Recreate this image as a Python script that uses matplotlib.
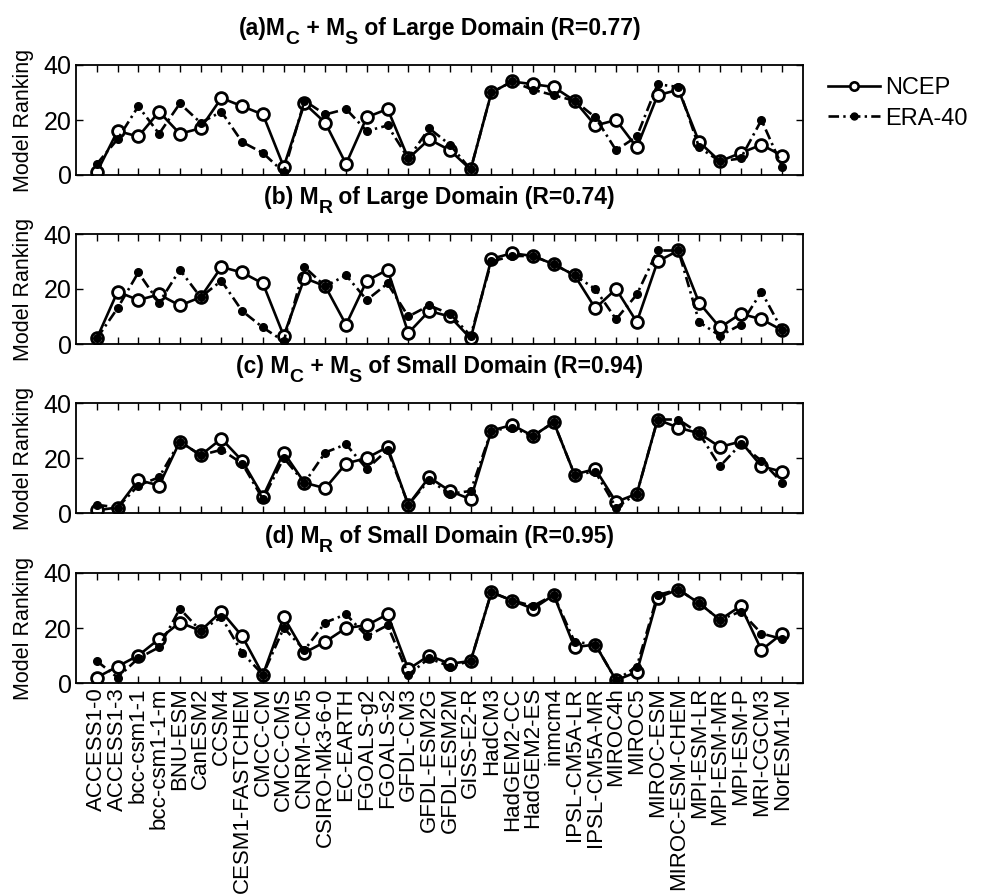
#!/usr/bin/env python3

import numpy as np
import matplotlib
matplotlib.use("Agg")
import matplotlib.pyplot as plt
from matplotlib.lines import Line2D
from matplotlib.transforms import IdentityTransform


# Modellnamen (x-Achse)
models = ["ACCESS1-0", "ACCESS1-3", "bcc-csm1-1", "bcc-csm1-1-m", "BNU-ESM", "CanESM2",
          "CCSM4", "CESM1-FASTCHEM", "CMCC-CM", "CMCC-CMS", "CNRM-CM5", "CSIRO-Mk3-6-0",
          "EC-EARTH", "FGOALS-g2", "FGOALS-s2", "GFDL-CM3", "GFDL-ESM2G", "GFDL-ESM2M",
          "GISS-E2-R", "HadCM3", "HadGEM2-CC", "HadGEM2-ES", "inmcm4", "IPSL-CM5A-LR",
          "IPSL-CM5A-MR", "MIROC4h", "MIROC5", "MIROC-ESM", "MIROC-ESM-CHEM", "MPI-ESM-LR",
          "MPI-ESM-MR", "MPI-ESM-P", "MRI-CGCM3", "NorESM1-M"]

# Titel als Stuecke: (Text, ist Index)
titles = [[("(a)M", False), ("C", True), (" + M", False), ("S", True),
           (" of Large Domain (R=0.77)", False)],
          [("(b) M", False), ("R", True), (" of Large Domain (R=0.74)", False)],
          [("(c) M", False), ("C", True), (" + M", False), ("S", True),
           (" of Small Domain (R=0.94)", False)],
          [("(d) M", False), ("R", True), (" of Small Domain (R=0.95)", False)]]

# (a) MC + MS, grosses Gebiet
ncep_a = [1, 16, 14, 23, 15, 17, 28, 25, 22, 3, 26, 19, 4, 21, 24, 6, 13, 9, 2, 30,
          34, 33, 32, 27, 18, 20, 10, 29, 31, 12, 5, 8, 11, 7]
era_a = [4, 13, 25, 15, 26, 19, 23, 12, 8, 1, 27, 22, 24, 16, 18, 6, 17, 11, 2, 30,
         34, 31, 29, 27, 21, 9, 14, 33, 32, 10, 5, 6, 20, 3]

# (b) MR, grosses Gebiet
ncep_b = [2, 19, 16, 18, 14, 17, 28, 26, 22, 3, 24, 21, 7, 23, 27, 4, 12, 10, 2, 31,
          33, 32, 29, 25, 13, 20, 8, 30, 34, 15, 6, 11, 9, 5]
era_b = [2, 13, 26, 15, 27, 17, 23, 12, 6, 1, 28, 21, 25, 16, 22, 10, 14, 11, 3, 30,
         32, 32, 29, 25, 20, 9, 18, 34, 34, 8, 3, 7, 19, 5]

# (c) MC + MS, kleines Gebiet
ncep_c = [1, 2, 12, 10, 26, 21, 27, 19, 6, 22, 11, 9, 18, 20, 24, 3, 13, 8, 5, 30,
          32, 28, 33, 14, 16, 4, 7, 34, 31, 29, 24, 26, 17, 15]
era_c = [3, 2, 10, 13, 26, 21, 23, 18, 5, 20, 11, 22, 25, 16, 23, 3, 12, 7, 8, 30,
         31, 28, 33, 14, 15, 2, 7, 34, 34, 29, 17, 25, 19, 11]

# (d) MR, kleines Gebiet
ncep_d = [2, 6, 10, 16, 22, 19, 26, 17, 3, 24, 11, 15, 20, 21, 25, 5, 10, 7, 8, 33,
          30, 27, 32, 13, 14, 1, 4, 31, 34, 29, 23, 28, 12, 18]
era_d = [8, 2, 9, 13, 27, 19, 24, 11, 3, 20, 12, 22, 25, 17, 21, 3, 9, 6, 8, 33,
         30, 28, 32, 15, 14, 1, 6, 32, 34, 29, 23, 26, 18, 16]

ncep_all = [ncep_a, ncep_b, ncep_c, ncep_d]
era_all = [era_a, era_b, era_c, era_d]


plt.rcParams["font.family"] = ["Liberation Sans", "DejaVu Sans"]

W, H = 983, 896
fig = plt.figure(figsize=(W / 100, H / 100), dpi=100)
renderer = fig.canvas.get_renderer()

x = np.arange(1, len(models) + 1)
panel_bottoms = [175, 344, 513, 683]    # untere Kante jedes Panels in Pixel
ax_left, ax_width, ax_height = 76, 727, 110
dashdot = (0, (4, 1.6, 0.9, 1.6))
title_size = 16.5


def draw_title(ax, parts):
    # Titel Stueck fuer Stueck setzen, Indizes gross und tiefgestellt (wie MATLAB)
    texts = []
    widths = []
    for s, sub in parts:
        t = fig.text(0, 0, s, transform=IdentityTransform(), ha="left", va="baseline",
                     fontsize=title_size * (0.85 if sub else 1.0), fontweight="bold")
        texts.append((t, sub))
        widths.append(t.get_window_extent(renderer).width)
    cx, base = ax.transAxes.transform((0.5, 1.0))
    base += 30
    xpos = cx - sum(widths) / 2
    for (t, sub), w in zip(texts, widths):
        t.set_position((xpos, base - (9 if sub else 0)))
        xpos += w


for i in range(4):
    ax = fig.add_axes([ax_left / W, 1 - panel_bottoms[i] / H, ax_width / W, ax_height / H])

    ax.plot(x, ncep_all[i], "-o", color="k", lw=1.9, ms=8.5, mfc="white", mec="k",
            mew=2.0, zorder=2)
    ax.plot(x, era_all[i], linestyle=dashdot, marker="o", color="k", lw=1.9, ms=5.5,
            zorder=3)

    ax.set_xlim(0, 35)
    ax.set_ylim(0, 40)
    ax.set_yticks([0, 20, 40])
    ax.set_xticks(x)
    if i == 3:
        ax.set_xticklabels(models, rotation=90, fontsize=16)
    else:
        ax.set_xticklabels([])

    ax.tick_params(direction="in", top=True, right=True, length=5, width=1, pad=3)
    ax.tick_params(axis="y", labelsize=18)
    for sp in ax.spines.values():
        sp.set_linewidth(1.3)

    ax.set_ylabel("Model Ranking", fontsize=15.5)
    ax.yaxis.set_label_coords(-0.058, 0.5)

    draw_title(ax, titles[i])

# Legende rechts oben
handles = [Line2D([], [], color="k", lw=1.9, marker="o", ms=6, mfc="white", mew=1.9),
           Line2D([], [], color="k", lw=1.9, linestyle=dashdot, marker="o", ms=5)]
fig.legend(handles, ["NCEP", "ERA-40"], loc="center left",
           bbox_to_anchor=(828 / W, 1 - 103.5 / H), frameon=False, fontsize=17,
           handlelength=2.2, handletextpad=0.2, labelspacing=0.35, borderpad=0,
           borderaxespad=0)

plt.savefig("out.png", dpi=100)
plt.close()
